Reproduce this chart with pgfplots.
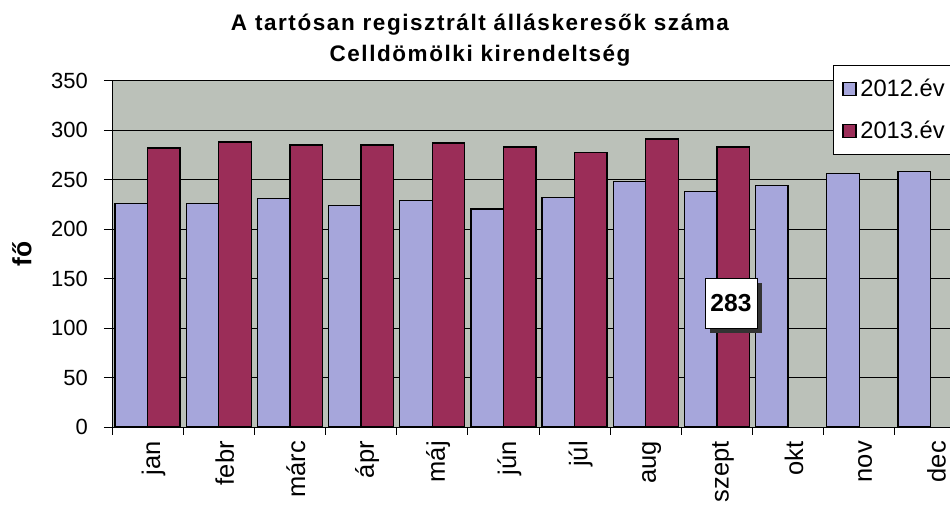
\documentclass[border=0pt]{standalone}
\usepackage{fontspec}
\setmainfont{Liberation Sans}
\usepackage{pgfplots}
\pgfplotsset{compat=1.18}
\usetikzlibrary{shadows}
\definecolor{cA}{RGB}{166,166,219}
\definecolor{cB}{RGB}{155,45,88}
\definecolor{bgg}{RGB}{187,193,185}
\begin{document}
\begin{tikzpicture}
\useasboundingbox (0,0) rectangle (19cm,10.14cm);
\begin{axis}[
  at={(2.24cm,1.6cm)}, anchor=south west,
  scale only axis, width=17.08cm, height=6.93cm,
  ybar=0pt, bar width=0.65cm,
  xmin=-0.5, xmax=11.5, ymin=0, ymax=350,
  ytick={0,50,...,350},
  xtick={0,...,11},
  xticklabels={jan,febr,márc,ápr,máj,jún,júl,aug,szept,okt,nov,dec},
  minor xtick={-0.5,0.5,...,11.5},
  major x tick style={draw=none},
  minor x tick style={black, thin},
  major tick length=0.16cm, minor tick length=0.16cm,
  tick align=outside,
  xtick pos=bottom, ytick pos=left,
  y tick style={black, thin},
  axis lines*=left,
  axis line style={black, thin},
  ymajorgrids, grid style={black, thin},
  axis background/.style={fill=bgg},
  /pgf/number format/assume math mode=true,
  yticklabel style={font=\fontsize{12.5}{15}\selectfont, xshift=-0.2cm},
  xticklabel style={font=\fontsize{14.5}{17}\selectfont, rotate=90, anchor=east, yshift=-0.12cm},
  ylabel={fő},
  every axis y label/.style={at={(axis description cs:-0.1054,0.5)}, rotate=90, anchor=center, font=\bfseries\fontsize{15}{18}\selectfont},
  title={A tartósan regisztrált álláskeresők száma\\Celldömölki kirendeltség},
  title style={at={(axis description cs:0.4309,1.163)}, anchor=north, align=center, inner sep=0pt,
    font=\bfseries\fontsize{12.8}{17.6}\selectfont\addfontfeature{LetterSpace=7}},
  legend style={at={(axis description cs:0.8443,1.0447)}, anchor=north west, draw=black, fill=white,
    font=\fontsize{13.5}{15}\selectfont, inner xsep=0.18cm, inner ysep=0.2cm, row sep=0.3cm},
  legend cell align=left,
  legend image code/.code={\draw[#1, draw=black] (0cm,-0.13cm) rectangle (0.26cm,0.13cm);},
]
\addplot[fill=cA, draw=black, line width=0.8pt] coordinates {
 (0,226) (1,226) (2,231) (3,224) (4,229) (5,220) (6,232) (7,248) (8,238) (9,244) (10,256) (11,258)};
\addplot[fill=cB, draw=black, line width=0.8pt] coordinates {
 (0,282) (1,288) (2,285) (3,285) (4,287) (5,283) (6,277) (7,291) (8,283)};
\legend{2012.év\hspace{0.6cm},2013.év\hspace{0.6cm}}
\node[draw=black, fill=white, font=\bfseries\fontsize{14}{17}\selectfont, minimum width=1.04cm, minimum height=1.0cm, inner sep=0pt,
  drop shadow={shadow xshift=0.1cm, shadow yshift=-0.1cm, fill=black!80, opacity=1}] at (axis cs:8.197,125) {283};
\end{axis}
\end{tikzpicture}
\end{document}
